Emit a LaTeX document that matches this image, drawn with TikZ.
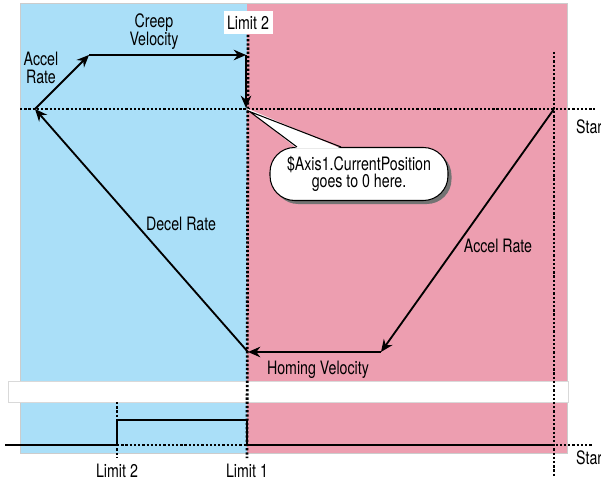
\documentclass[tikz,border=0pt]{standalone}
\usepackage{fontspec}
\setmainfont{TeX Gyre Heros}[FakeStretch=0.77]
\usetikzlibrary{arrows.meta,calc,shadows}

\definecolor{zoneblue}{RGB}{170,223,248}
\definecolor{zonepink}{RGB}{237,158,176}

\begin{document}
\begin{tikzpicture}[x=0.02cm, y=-0.02cm,
  font=\fontsize{10.5}{10.3}\selectfont,
  >={Stealth[length=7pt,width=6pt]},
  dots/.style={line width=1.6pt, dash pattern=on 1.3pt off 1.1pt},
  move/.style={->, line width=1.05pt},
  bubble/.style={draw, fill=white, line width=0.6pt, rounded corners=14pt,
    minimum width=3.56cm, minimum height=1.06cm, align=center,
    font=\fontsize{10.5}{8.6}\selectfont,
    drop shadow={shadow xshift=2pt, shadow yshift=-2pt, fill=black!55, opacity=1}}]
\useasboundingbox (0,0) rectangle (601,479);

% the two zones and the blank strip
\fill[zoneblue] (20,3) rectangle (247,453);
\fill[zonepink] (247,3) rectangle (567,453);
\draw[gray!40, line width=0.4pt] (20,3) rectangle (567,453);
\filldraw[fill=white, draw=gray!30, line width=0.4pt] (8,381) rectangle (568,402);

% limit and start labels
\node[fill=white, inner sep=2pt, minimum width=0.98cm, minimum height=0.46cm] (lim2top) at (248,23) {Limit 2};
\node (lim2bot) at (117,471) {Limit 2};
\node (lim1bot) at (247,471) {Limit 1};
\node[anchor=west] (start1) at (570,127) {Start};
\node[anchor=west] (start2) at (570,458) {Start};

% dotted guides
\draw[dots] (20,109) -- (595,109);
\draw[dots] (lim2top.south) -- (lim1bot.north);
\draw[dots] (554,52) -- (554,476);
\draw[dots] (117,402) -- (lim2bot.north);
\draw[dots] (117,445) -- (592,445);

% limit switch signal
\draw[line width=1.05pt] (5,445) -- (117,445) -- (117,420) -- (247,420) -- (247,445) -- (554,445);

% homing profile
\coordinate (1) at (554,109);
\coordinate (2) at (381,352);
\coordinate (3) at (248,352);
\coordinate (4) at (35,109);
\coordinate (5) at (89,55);
\coordinate (6) at (246,55);
\coordinate (7) at (246,108);

\draw[move] (1) -- (2);
\draw[move] (2) -- (3);
\draw[move] (3) -- (4);
\draw[move] (4) -- (5);
\draw[move] (5) -- (6);
\draw[move] (6) -- (7);

\node[align=center] (accel1) at (41,68) {Accel\\Rate};
\node[align=center] (creep) at (154,32) {Creep\\Velocity};
\node (decel) at (181,224) {Decel Rate};
\node (accel2) at (498,246) {Accel Rate};
\node (homing) at (318,370) {Homing Velocity};

% callout
\node[bubble] (note) at (359,174) {\$Axis1.CurrentPosition\\goes to 0 here.};
\fill[white] ($(note.north)+(-62,1.5)$) -- (7) -- ($(note.north)+(-18,1.5)$) -- cycle;
\draw[line width=0.6pt] ($(note.north)+(-62,0)$) -- ([xshift=2pt,yshift=-2pt]7.center) -- ($(note.north)+(-18,0)$);
\end{tikzpicture}
\end{document}
